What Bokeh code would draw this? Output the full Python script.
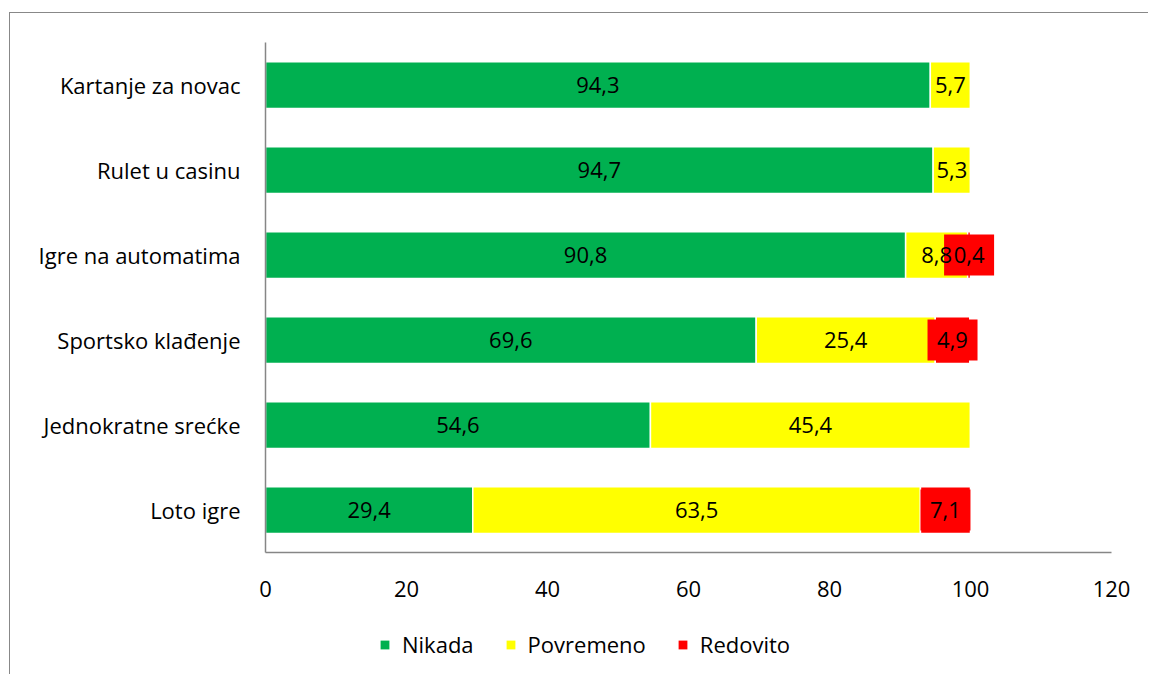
from bokeh.plotting import figure
from bokeh.layouts import column
from bokeh.models import ColumnDataSource, FactorRange, Range1d, LabelSet, Legend, LegendItem, FixedTicker
from bokeh.core.properties import value
from bokeh.embed import file_html
from bokeh.resources import INLINE

categories = ["Kartanje za novac", "Rulet u casinu", "Igre na automatima",
              "Sportsko klađenje", "Jednokratne srećke", "Loto igre"]
nikada = [94.3, 94.7, 90.8, 69.6, 54.6, 29.4]
povremeno = [5.7, 5.3, 8.8, 25.4, 45.4, 63.5]
redovito = [0.0, 0.0, 0.4, 4.9, 0.0, 7.1]
series_names = ["Nikada", "Povremeno", "Redovito"]
x_ticks = [0, 20, 40, 60, 80, 100, 120]

colors = ["#00B050", "#FFFF00", "#FF0000"]
FONT = "Open Sans"
FS = "22px"
BORDER = "1px solid #888888"

p = figure(y_range=FactorRange(factors=list(reversed(categories))),
           x_range=Range1d(0, 120), width=1139, height=602,
           output_backend="svg", toolbar_location=None,
           min_border_left=255, min_border_right=38, min_border_top=29, min_border_bottom=63)
p.styles = {"border-left": BORDER, "border-top": BORDER,
            "margin-left": "9px", "margin-top": "12px"}
p.outline_line_color = None
p.xgrid.grid_line_color = None
p.ygrid.grid_line_color = None
p.y_range.range_padding = 0
p.y_range.factor_padding = 0

# legend strip below the chart
lf = figure(width=1139, height=60, x_range=Range1d(0, 120),
            y_range=FactorRange(factors=list(reversed(categories))),
            output_backend="svg", toolbar_location=None,
            x_axis_location=None, y_axis_location=None,
            min_border=0, min_border_left=255, min_border_right=38, min_border_top=0, min_border_bottom=0)
lf.styles = {"border-left": BORDER, "margin-left": "9px"}
lf.outline_line_color = None
lf.xgrid.grid_line_color = None
lf.ygrid.grid_line_color = None

items = []
lefts = [0.0] * len(categories)
for name, vals, col in zip(series_names, [nikada, povremeno, redovito], colors):
    rights = [l + v for l, v in zip(lefts, vals)]
    d = dict(y=categories, left=lefts, right=rights,
             mid=[(l + r) / 2 for l, r in zip(lefts, rights)],
             txt=[("%.1f" % v).replace(".", ",") if v > 0 else "" for v in vals])
    src = ColumnDataSource(d)
    p.hbar(y="y", left="left", right="right", height=0.55, source=src,
           fill_color=col, line_color="white", line_width=1.5)
    if name == "Redovito":
        keep = [i for i, v in enumerate(vals) if v > 0]
        bsrc = ColumnDataSource({k: [d[k][i] for i in keep] for k in d})
        p.rect(x="mid", y="y", width=50, height=41, width_units="screen", height_units="screen",
               source=bsrc, fill_color=col, line_color=None)
    lab = LabelSet(x="mid", y="y", text="txt", source=src, text_align="center",
                   text_baseline="middle", text_font=value(FONT), text_font_size=value(FS),
                   text_color="black")
    p.add_layout(lab)
    # hidden twin renderer used only for the legend swatch
    lr = lf.hbar(y="y", left="left", right="right", height=0.55, source=src,
                 fill_color=col, line_color=None, visible=False)
    items.append(LegendItem(label=name, renderers=[lr]))
    lefts = rights

p.xaxis.ticker = FixedTicker(ticks=x_ticks)
for ax in [p.xaxis[0], p.yaxis[0]]:
    ax.axis_line_color = "#868686"
    ax.axis_line_width = 1.5
    ax.major_tick_line_color = None
    ax.minor_tick_line_color = None
    ax.major_label_text_font = FONT
    ax.major_label_text_font_size = FS
    ax.major_label_text_color = "black"
p.yaxis.major_label_standoff = 19
p.xaxis.major_label_standoff = 22

legend = Legend(items=items, orientation="horizontal", location=(114, 15),
                border_line_color=None, background_fill_alpha=0,
                label_text_font=FONT, label_text_font_size=FS, label_text_color="black",
                glyph_width=11, glyph_height=11, label_standoff=12, spacing=31,
                padding=0, margin=0)
lf.add_layout(legend, "center")

layout = column(p, lf, spacing=0)
open("out.html", "w").write(file_html(layout, INLINE))
